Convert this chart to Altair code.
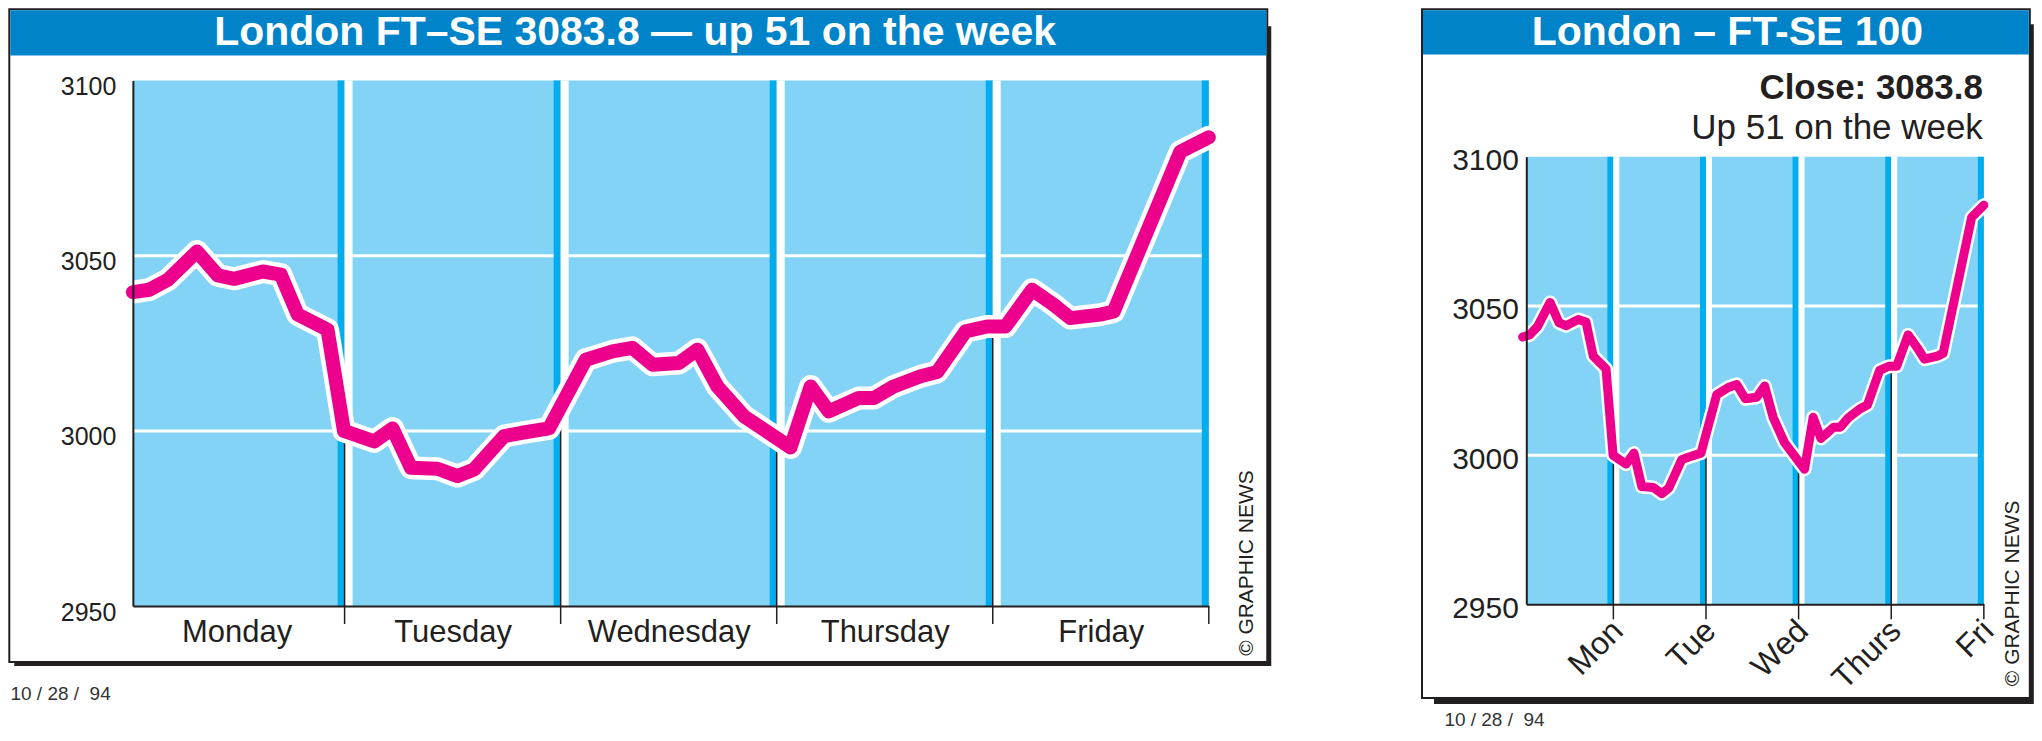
import json
import altair as alt
import pandas as pd

# ---------------- data ----------------
# trading time in days (Monday open = 0, Friday close = 5) and FT-SE 100 level
T = [0.02, 0.096, 0.181, 0.317, 0.413, 0.489, 0.621, 0.705, 0.783, 0.921,
     0.997, 1.137, 1.222, 1.307, 1.430, 1.523, 1.599, 1.738, 1.815, 1.946,
     2.116, 2.240, 2.332, 2.425, 2.548, 2.633, 2.725, 2.848, 3.064, 3.157,
     3.241, 3.380, 3.450, 3.542, 3.666, 3.743, 3.874, 3.974, 4.059, 4.182,
     4.282, 4.359, 4.498, 4.560, 4.868, 5.0]
V = [3039.6, 3040.3, 3043.1, 3051.2, 3044.4, 3043.4, 3045.5, 3044.6, 3033.2, 3028.9,
     3000.0, 2997.0, 3000.7, 2989.5, 2989.2, 2987.1, 2989.0, 2998.5, 2999.4, 3000.7,
     3020.3, 3022.7, 3023.7, 3018.9, 3019.4, 3023.2, 3012.7, 3004.2, 2995.3, 3012.7,
     3005.6, 3009.4, 3009.4, 3012.7, 3015.6, 3016.8, 3028.4, 3029.8, 3029.8, 3040.3,
     3036.0, 3032.2, 3033.2, 3034.1, 3079.7, 3083.8]

DAYS_LONG = ["Monday", "Tuesday", "Wednesday", "Thursday", "Friday"]
DAYS_SHORT = ["Mon", "Tue", "Wed", "Thurs", "Fri"]
DAY_START = [0, 1, 2, 3, 4]
DAY_END = [1, 2, 3, 4, 5]
MARKER_TOP = [2999, 3005, 2997, 3029, 2950]   # day-divider lines run up to the index line
GRID_AT = [3000, 3050]
Y_TICKS = [2950, 3000, 3050, 3100]
Y_MIN, Y_MAX = 2950, 3100

TITLE_WIDE = "London FT–SE 3083.8 — up 51 on the week"
TITLE_NARROW = "London – FT-SE 100"
CLOSE_TEXT = "Close: 3083.8"
WEEK_TEXT = "Up 51 on the week"
CREDIT = "© GRAPHIC NEWS"
DATE_TEXT = "10 / 28 /\u00a0\u00a094"

# ---------------- styling ----------------
INK = "#231F20"
PINK = "#EC008C"
SKY = "#82D3F5"
CYAN = "#00AEEF"
BAR = "#0083C9"
FONT = "Liberation Sans"
NARROW = "Liberation Sans Narrow, Liberation Sans, sans-serif"

series = pd.DataFrame({"t": T, "v": V})
days = pd.DataFrame({"d0": DAY_START, "d1": DAY_END})
ends = pd.DataFrame({"e": DAY_END, "top": MARKER_TOP})
grid = pd.DataFrame({"g": GRID_AT})
one = pd.DataFrame({"k": [0]})


def box_rect(x1, x2, y1, y2, **kw):
    return alt.Chart(one).mark_rect(**kw).encode(
        x=alt.value(x1), x2=alt.value(x2), y=alt.value(y1), y2=alt.value(y2))


def deco_text(x, y, text, **kw):
    return alt.Chart(one).mark_text(**kw).encode(
        x=alt.value(x), y=alt.value(y), text=alt.value(text))


def panel(p):
    # group origin: plot left edge horizontally, frame top vertically
    w, h, oy = p["w"], p["h"], p["oy"]
    xs = alt.Scale(domain=[p["x0"], 5], nice=False, zero=False)
    ys = alt.Scale(domain=[Y_MIN, Y_MAX], range=[oy + h, oy], nice=False, zero=False)
    xax = alt.Axis(values=p["xvalues"], labelExpr=p["xlabels"], ticks=False, tickSize=0,
                   grid=False, domain=True, domainColor=INK, domainWidth=2,
                   labelFont=FONT, labelFontSize=p["xfs"], labelColor=INK,
                   labelPadding=p["xpad"], labelFlush=False, labelOverlap=False,
                   labelAngle=p["xangle"], labelAlign=p["xalign"],
                   labelBaseline=p["xbase"], labelOffset=p["xoff"],
                   title=None, zindex=1)
    yax = alt.Axis(values=Y_TICKS, format="d", ticks=False, tickSize=0, grid=False,
                   domain=True, domainColor=INK, domainWidth=2,
                   labelFont=FONT, labelFontSize=p["yfs"], labelColor=INK,
                   labelPadding=p["ypad"], labelOffset=p["yoff"], labelOverlap=False,
                   title=None, zindex=1)
    X = lambda f: alt.X(f, type="quantitative", scale=xs, axis=xax, title=None)
    Y = lambda f: alt.Y(f, type="quantitative", scale=ys, axis=yax, title=None)
    ylo = alt.YDatum(Y_MIN, type="quantitative", scale=ys, axis=yax, title=None)
    yhi = alt.Y2Datum(Y_MAX)

    bx1, bx2, bh = p["box"]
    sdx, sdy = p["shadow"]
    layers = [
        box_rect(bx1 + sdx, bx2 + 4, sdy, bh + p["sb"], color=INK),
        box_rect(bx1, bx2, 1, bh, fill="white", stroke=INK, strokeWidth=2),
        box_rect(bx1 + 1, bx2 - 1, 2, p["bar"], color=BAR),
        # plot background bands (one per trading day)
        alt.Chart(days).mark_rect(color=SKY, clip=True).encode(
            x=X("d0"), x2="d1", y=ylo, y2=yhi),
        # horizontal white grid
        alt.Chart(grid).mark_rule(color="white", strokeWidth=3).encode(y=Y("g")),
        # dark stripe closing each day and white gap opening the next one
        alt.Chart(ends).mark_rect(color=CYAN, xOffset=-p["dark"], x2Offset=0).encode(
            x=X("e"), x2="e", y=ylo, y2=yhi),
        alt.Chart(ends).transform_filter("datum.e < 5").mark_rect(
            color="white", xOffset=0, x2Offset=p["gap"]).encode(
            x=X("e"), x2="e", y=ylo, y2=yhi),
        # thin divider lines + ticks below the axis
        alt.Chart(ends).mark_rule(color=INK, strokeWidth=1.5).encode(
            x=X("e"), y=Y("top"), y2=alt.value(oy + h + p["tick"])),
        # the index line with its white halo
        alt.Chart(series).mark_line(color="white", strokeWidth=p["halo"],
                                    strokeCap="round", strokeJoin="round").encode(
            x=X("t"), y=Y("v")),
        alt.Chart(series).mark_line(color=PINK, strokeWidth=p["lw"],
                                    strokeCap="round", strokeJoin="round").encode(
            x=X("t"), y=Y("v")),
        deco_text(p["tx"], p["ty"], p["title"], font=FONT, fontSize=41,
                  fontWeight="bold", color="white", align="center",
                  baseline="alphabetic"),
        deco_text(p["cx"], p["cy"], CREDIT, font=NARROW, fontSize=21, color=INK,
                  angle=270, align="center", baseline="middle"),
        deco_text(p["dx"], p["dy"], DATE_TEXT, font=FONT, fontSize=19, color="#333333",
                  align="left", baseline="alphabetic"),
    ]
    layers += p.get("extra", [])
    return alt.layer(*layers).properties(width=w, height=oy + h)


left = panel(dict(
    w=1077, h=526, oy=72.3, x0=0.02,
    xvalues=[d + 0.5 for d in DAY_START],
    xlabels=f"{json.dumps(DAYS_LONG)}[floor(datum.value)]",
    xfs=31, xpad=11, xangle=0, xalign="center", xbase="top", xoff=0,
    yfs=25, ypad=17, yoff=6,
    box=(-123.7, 1135.5, 654.3), shadow=(5, 18), sb=4, bar=47.3,
    dark=7, gap=8, tick=18, halo=23, lw=14,
    title=TITLE_WIDE, tx=502.8, ty=37,
    cx=1115.3, cy=555.3, dx=-122.5, dy=692,
))

right = panel(dict(
    w=458, h=448, oy=148.6, x0=0.06,
    xvalues=DAY_END,
    xlabels=f"{json.dumps(DAYS_SHORT)}[round(datum.value) - 1]",
    xfs=32, xpad=21, xangle=315, xalign="right", xbase="middle", xoff=4,
    yfs=30, ypad=8, yoff=4,
    box=(-104.4, 504, 690.3), shadow=(12, 16), sb=6, bar=46.3,
    dark=6, gap=6, tick=15, halo=14, lw=9,
    title=TITLE_NARROW, tx=201.3, ty=36.6,
    cx=487, cy=585.6, dx=-82, dy=718,
    extra=[
        deco_text(457, 90.3, CLOSE_TEXT, font=FONT, fontSize=35, fontWeight="bold",
                  color=INK, align="right", baseline="alphabetic"),
        deco_text(457, 130.3, WEEK_TEXT, font=FONT, fontSize=35, color=INK,
                  align="right", baseline="alphabetic"),
    ],
))

chart = alt.hconcat(left, right, spacing=148.8).properties(
    padding=0, background="white"
).configure_view(strokeWidth=0)

chart.save("out.html", embed_options={"renderer": "svg", "actions": False})
